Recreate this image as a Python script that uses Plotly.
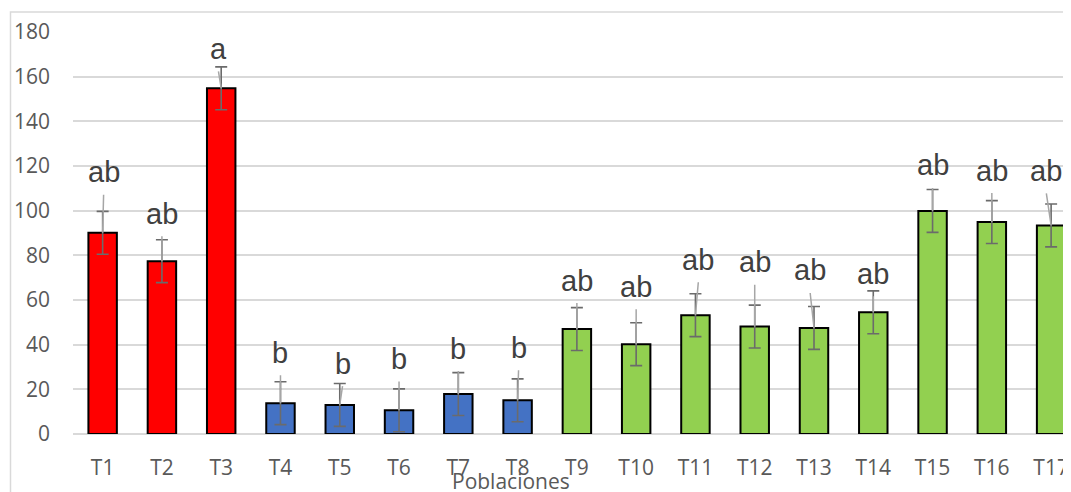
import plotly.graph_objects as go

categories = ["T1", "T2", "T3", "T4", "T5", "T6", "T7", "T8", "T9", "T10",
              "T11", "T12", "T13", "T14", "T15", "T16", "T17"]
values = [90.1, 77.4, 154.8, 13.8, 13.0, 10.6, 17.9, 15.1, 47.0, 40.2,
          53.2, 48.1, 47.5, 54.5, 99.9, 94.9, 93.4]
errors = [9.6, 9.6, 9.6, 9.6, 9.6, 9.6, 9.6, 9.6, 9.6, 9.6,
          9.6, 9.6, 9.6, 9.6, 9.6, 9.6, 9.6]
letters = ["ab", "ab", "a", "b", "b", "b", "b", "b", "ab", "ab",
           "ab", "ab", "ab", "ab", "ab", "ab", "ab"]
groups = ["red"] * 3 + ["blue"] * 5 + ["green"] * 9

# layout-only helpers (pixel gaps between error-bar top and label baseline, label x nudges)
label_gap = [28, 15, 7, 18, 9, 19, 13, 20, 16, 25, 23, 32, 25, 6, 13, 19, 22]
label_dx = [1, 0, -3, 0, 3, 0, 0, 1, 0, 0, 3, 0, -4, 0, 0, 0, -5]

group_colors = {"red": "#FF0000", "blue": "#4472C4", "green": "#92D050"}
colors = [group_colors[g] for g in groups]

OFF = 8  # page body margin offset
W, H = 1071 - OFF, 492 - OFF
ml, mr, mt, mb = 73 - OFF, 0, 32 - OFF, 58
plot_w = W - ml - mr
plot_h = H - mt - mb
step_px = 59.28
ymax = 180
ppu = plot_h / ymax
xmax = -0.5 + plot_w / step_px

fig = go.Figure()
fig.add_trace(go.Bar(
    x=list(range(len(categories))),
    y=values,
    width=0.48,
    marker=dict(color=colors, line=dict(color="#000000", width=2)),
    error_y=dict(type="data", array=errors, visible=True,
                 color="#6B6B6B", thickness=1.6, width=6),
    showlegend=False,
))

annotations = []
for i, (v, e, t) in enumerate(zip(values, errors, letters)):
    gap = label_gap[i]
    dx = label_dx[i]
    top_val = v + e + (gap - 10) / ppu
    if top_val > v:
        annotations.append(dict(
            x=i, y=v, xref="x", yref="y",
            ax=i + dx / step_px, ay=top_val, axref="x", ayref="y",
            text="", showarrow=True, arrowhead=0, arrowwidth=1.5,
            arrowcolor="#A6A6A6", standoff=0, startstandoff=0,
        ))
    annotations.append(dict(
        x=i, y=v + e, xref="x", yref="y",
        text=t, showarrow=False, yanchor="bottom",
        yshift=gap - 7, xshift=dx,
        font=dict(family="Liberation Sans, Arial, sans-serif", size=29, color="#404040"),
    ))

annotations.append(dict(
    x=(511 - 73) / plot_w, y=(plot_h - (481 - 32)) / plot_h,
    xref="paper", yref="paper", text="Poblaciones", showarrow=False,
    xanchor="center", yanchor="middle",
    font=dict(family="Open Sans, sans-serif", size=21, color="#595959"),
))

fig.update_layout(
    width=W, height=H,
    margin=dict(l=ml, r=mr, t=mt, b=mb, autoexpand=False),
    paper_bgcolor="white", plot_bgcolor="white",
    annotations=annotations,
    shapes=[dict(type="rect", xref="paper", yref="paper",
                 x0=(10.5 - 73) / plot_w, x1=1.02,
                 y0=-0.3, y1=1 + (32 - 12) / plot_h,
                 line=dict(color="#D9D9D9", width=1.5), layer="below")],
)
fig.update_xaxes(
    range=[-0.5, xmax], tickmode="array",
    tickvals=list(range(len(categories))), ticktext=categories,
    showgrid=False, showline=False, zeroline=False, ticks="",
    tickfont=dict(family="Open Sans, sans-serif", size=21, color="#595959"),
    ticklabelstandoff=19, automargin=False,
)
fig.update_yaxes(
    range=[0, ymax], tickvals=list(range(0, 181, 20)),
    showgrid=True, gridcolor="#D9D9D9", gridwidth=1.5,
    zeroline=True, zerolinecolor="#D9D9D9", zerolinewidth=1.5,
    showline=False, ticks="",
    tickfont=dict(family="Open Sans, sans-serif", size=21, color="#595959"),
    ticklabelstandoff=22, automargin=False,
)

fig.write_html("out.html")
